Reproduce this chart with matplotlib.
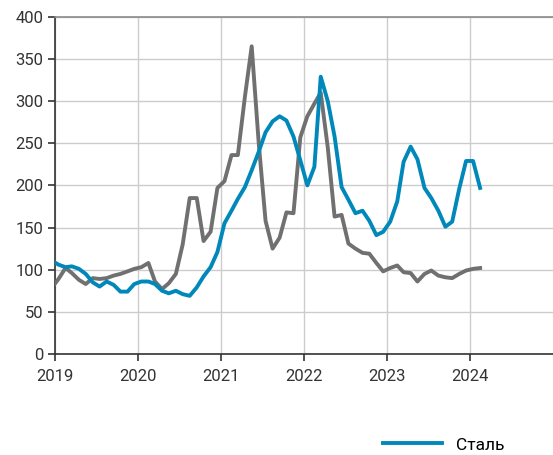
import pandas as pd
import matplotlib.pyplot as plt
import matplotlib.dates as mdates
from datetime import datetime

plt.rcParams['font.family'] = ['Roboto', 'DejaVu Sans']

# monthly values, Dec 2018 .. Feb 2024 (plotted mid-month)
months = pd.date_range('2018-12-01', '2024-02-01', freq='MS') + pd.Timedelta(days=14)

steel = [111,
         106, 103, 104, 101, 95, 85, 80, 86, 82, 74, 74, 83,
         86, 86, 83, 75, 72, 75, 71, 69, 79, 92, 103, 121,
         155, 170, 184, 198, 218, 240, 263, 276, 282, 277, 258, 230,
         200, 222, 329, 300, 258, 198, 183, 167, 170, 158, 141, 145,
         157, 181, 228, 246, 231, 197, 185, 170, 151, 157, 196, 229,
         229, 197]

other = [78,
         89, 102, 96, 88, 83, 90, 89, 90, 93, 95, 98, 101,
         103, 108, 86, 77, 84, 95, 130, 185, 185, 134, 145, 197,
         205, 236, 236, 305, 365, 250, 158, 125, 138, 168, 167, 257,
         282, 297, 310, 245, 163, 165, 131, 125, 120, 119, 108, 98,
         102, 105, 97, 96, 86, 95, 99, 93, 91, 90, 95, 99,
         101, 102]

years = [2019, 2020, 2021, 2022, 2023, 2024]
yticks = [0, 50, 100, 150, 200, 250, 300, 350, 400]

fig = plt.figure(figsize=(5.53, 4.55), dpi=100)
ax = fig.add_axes([0.1, 0.222, 0.9, 0.741])

ax.plot(months, other, color='#707070', lw=2.8, zorder=3)
ax.plot(months, steel, color='#0088bb', lw=2.8, zorder=4, label='Сталь')

ax.set_xlim(datetime(2019, 1, 1), datetime(2025, 1, 1))
ax.set_ylim(0, 400)
ax.set_xticks([datetime(y, 1, 1) for y in years])
ax.xaxis.set_major_formatter(mdates.DateFormatter('%Y'))
ax.set_yticks(yticks)

ax.grid(True, color='#cccccc', lw=1)
ax.set_axisbelow(True)
for s in ['left', 'bottom']:
    ax.spines[s].set_color('#333333')
    ax.spines[s].set_linewidth(1.2)
ax.spines['top'].set_color('#8a8a8a')
ax.spines['top'].set_linewidth(1.2)
ax.spines['right'].set_visible(False)
ax.tick_params(axis='both', labelsize=12, colors='#333333', length=5, width=1.2, direction='out')
ax.tick_params(axis='x', pad=6)

fig.legend(loc='center left', bbox_to_anchor=(0.664, 0.022), frameon=False,
           fontsize=12.5, handlelength=3.4, handletextpad=0.8)

fig.savefig('out.png', dpi=100)
